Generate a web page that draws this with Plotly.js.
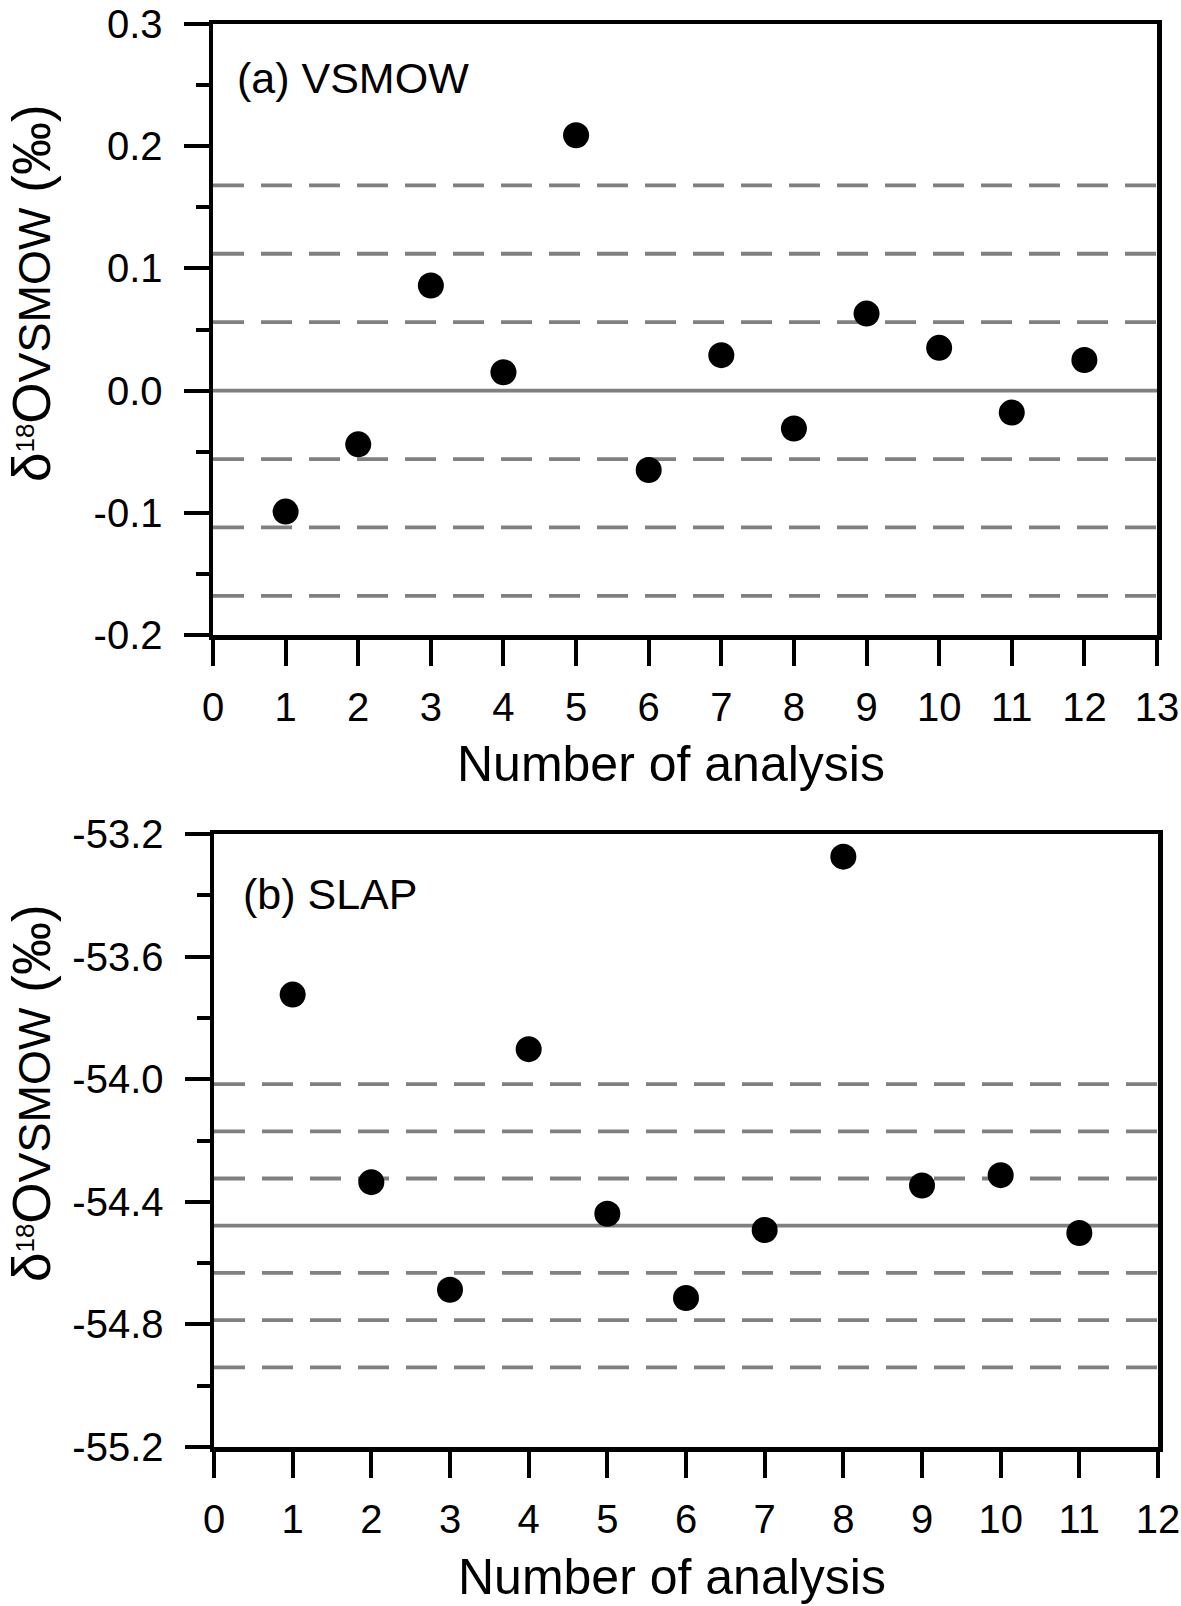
<!DOCTYPE html>
<html>
<head>
<meta charset="utf-8">
<script src="https://cdn.plot.ly/plotly-3.0.1.min.js"></script>
<style>html,body{margin:0;padding:0;background:#fff;}#chart{width:1181px;height:1606px;}</style>
</head>
<body>
<div id="chart"></div>
<script>
// Panel (a) VSMOW
const analysisA = [1,2,3,4,5,6,7,8,9,10,11,12];
const deltaA = [-0.099,-0.044,0.086,0.015,0.209,-0.065,0.029,-0.031,0.063,0.035,-0.018,0.025];
const meanA = 0.0;
const sigmaLevelsA = [-0.168,-0.112,-0.056,0.056,0.112,0.168];
const yTickValsA = [-0.2,-0.1,0.0,0.1,0.2,0.3];
const yTickTextA = ["-0.2","-0.1","0.0","0.1","0.2","0.3"];
const xRangeA = [0,13];

// Panel (b) SLAP
const analysisB = [1,2,3,4,5,6,7,8,9,10,11];
const deltaB = [-53.724,-54.336,-54.687,-53.902,-54.439,-54.714,-54.492,-53.274,-54.347,-54.313,-54.502];
const meanB = -54.478;
const sigmaLevelsB = [-54.940,-54.786,-54.632,-54.324,-54.170,-54.016];
const yTickValsB = [-55.2,-54.8,-54.4,-54.0,-53.6,-53.2];
const yTickTextB = ["-55.2","-54.8","-54.4","-54.0","-53.6","-53.2"];
const xRangeB = [0,12];

const yTitle = 'δ<span style="font-size:37px"><sup>18</sup></span>O<span style="font-size:45px">VSMOW</span> (‰)';
const xTitle = 'Number of analysis';

const FONT = 'Liberation Sans, Arial, sans-serif';
const GRAY = '#808080';

function hline(xr, y, xa, ya, dash){
  return {x:[xr[0], xr[1]], y:[y,y], xaxis:xa, yaxis:ya, mode:'lines', showlegend:false, hoverinfo:'skip',
          line:{color:GRAY, width:3.8, dash: dash ? '31px,17px' : 'solid'}};
}

const traces = [];
sigmaLevelsA.forEach(v => traces.push(hline(xRangeA, v, 'x', 'y', true)));
traces.push(hline(xRangeA, meanA, 'x', 'y', false));
sigmaLevelsB.forEach(v => traces.push(hline(xRangeB, v, 'x2', 'y2', true)));
traces.push(hline(xRangeB, meanB, 'x2', 'y2', false));
traces.push({x:analysisA, y:deltaA, xaxis:'x', yaxis:'y', mode:'markers', showlegend:false,
             marker:{color:'#000', size:26}});
traces.push({x:analysisB, y:deltaB, xaxis:'x2', yaxis:'y2', mode:'markers', showlegend:false,
             marker:{color:'#000', size:26}});

function xAxis(range, domain, anchor){
  return {range:range, domain:domain, anchor:anchor, tickmode:'linear', tick0:0, dtick:1,
          showline:true, linecolor:'#000', linewidth:4.5, mirror:true,
          ticks:'outside', ticklen:26, tickwidth:4, tickcolor:'#000',
          showgrid:false, zeroline:false, ticklabelstandoff:7, ticklabeloverflow:'allow',
          tickfont:{family:FONT, size:40, color:'#000'}};
}
function yAxis(range, domain, anchor, vals, text, minorDtick){
  return {range:range, domain:domain, anchor:anchor, tickmode:'array', tickvals:vals, ticktext:text,
          showline:true, linecolor:'#000', linewidth:4.5, mirror:true,
          ticks:'outside', ticklen:25, tickwidth:4, tickcolor:'#000',
          minor:{ticks:'outside', ticklen:13, tickwidth:4, tickcolor:'#000', dtick:minorDtick, tick0:0, showgrid:false},
          showgrid:false, zeroline:false, ticklabelstandoff:13, ticklabeloverflow:'allow',
          tickfont:{family:FONT, size:40, color:'#000'}};
}

const W = 1181, H = 1606;
const layout = {
  width:W, height:H, margin:{l:0,r:0,t:0,b:0}, paper_bgcolor:'#fff', plot_bgcolor:'#fff',
  font:{family:FONT, color:'#000'}, showlegend:false,
  xaxis: xAxis(xRangeA, [213/W, 1157/W], 'y'),
  yaxis: yAxis([-0.2,0.3], [1-635/H, 1-24/H], 'x', yTickValsA, yTickTextA, 0.05),
  xaxis2: xAxis(xRangeB, [214/W, 1158/W], 'y2'),
  yaxis2: yAxis([-55.2,-53.2], [1-1447/H, 1-834/H], 'x2', yTickValsB, yTickTextB, 0.2),
  annotations:[
    {text:'(a) VSMOW', xref:'paper', yref:'paper', x:235/W, y:1-78/H, xanchor:'left', yanchor:'middle', showarrow:false, font:{family:FONT, size:43, color:'#000'}},
    {text:'(b) SLAP', xref:'paper', yref:'paper', x:241/W, y:1-894/H, xanchor:'left', yanchor:'middle', showarrow:false, font:{family:FONT, size:43, color:'#000'}},
    {text:yTitle, textangle:-90, xref:'paper', yref:'paper', x:31/W, y:1-293/H, xanchor:'center', yanchor:'middle', showarrow:false, font:{family:FONT, size:53, color:'#000'}},
    {text:yTitle, textangle:-90, xref:'paper', yref:'paper', x:31/W, y:1-1093/H, xanchor:'center', yanchor:'middle', showarrow:false, font:{family:FONT, size:53, color:'#000'}},
    {text:xTitle, xref:'paper', yref:'paper', x:671/W, y:1-764/H, xanchor:'center', yanchor:'middle', showarrow:false, font:{family:FONT, size:50, color:'#000'}},
    {text:xTitle, xref:'paper', yref:'paper', x:672/W, y:1-1577/H, xanchor:'center', yanchor:'middle', showarrow:false, font:{family:FONT, size:50, color:'#000'}}
  ]
};

Plotly.newPlot('chart', traces, layout, {displayModeBar:false, staticPlot:true});
</script>
</body>
</html>
